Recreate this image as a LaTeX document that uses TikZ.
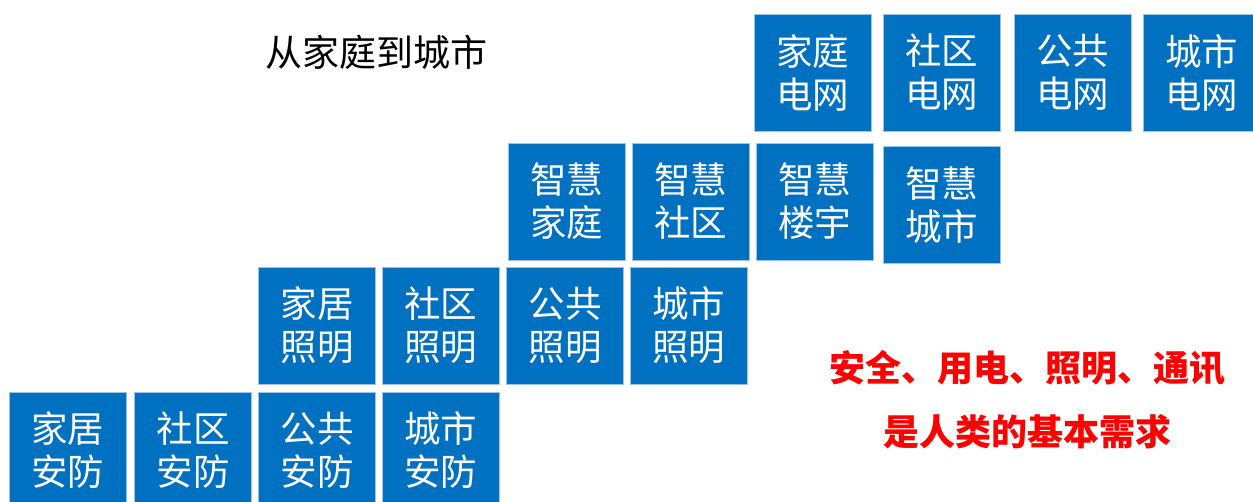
\documentclass[tikz,border=0pt]{standalone}
\usepackage{fontspec}
\newfontfamily\cjk{Noto Sans CJK SC}
\definecolor{boxblue}{HTML}{0070C0}
\definecolor{boxedge}{HTML}{9DC3E6}
\definecolor{redtext}{HTML}{FF0000}
\tikzset{
  tile/.style={draw=boxedge, line width=0.8pt, fill=boxblue, text=white,
    minimum width=117pt, minimum height=117pt, inner sep=0pt, align=center,
    font=\cjk\fontsize{36.5}{43}\selectfont},
  titletext/.style={font=\cjk\fontsize{37}{40}\selectfont, text=black, inner sep=0pt},
  redline/.style={font=\cjk\bfseries\fontsize{36}{40}\selectfont, text=redtext, inner sep=0pt}
}
\begin{document}
\begin{tikzpicture}[x=1pt,y=-1pt]
\useasboundingbox (0,0) rectangle (1253,502);
\node[titletext] (title) at (376,52) {从家庭到城市};
% row 1
\node[tile] (jtdw) at (812.5,72.5) {家庭\\电网};
\node[tile] (sqdw) at (941.5,72.5) {社区\\电网};
\node[tile] (ggdw) at (1072.5,72.5) {公共\\电网};
\node[tile] (csdw) at (1201.5,72.5) {城市\\电网};
% row 2
\node[tile] (zhjt) at (566.5,201.5) {智慧\\家庭};
\node[tile] (zhsq) at (690.5,201.5) {智慧\\社区};
\node[tile] (zhly) at (814.5,201.5) {智慧\\楼宇};
\node[tile] (zhcs) at (941.5,205) {智慧\\城市};
% row 3
\node[tile] (jjzm) at (317,325.5) {家居\\照明};
\node[tile] (sqzm) at (440.5,325.5) {社区\\照明};
\node[tile] (ggzm) at (565,325.5) {公共\\照明};
\node[tile] (cszm) at (688.5,325.5) {城市\\照明};
% row 4
\node[tile] (jjaf) at (67.5,450.5) {家居\\安防};
\node[tile] (sqaf) at (193,450.5) {社区\\安防};
\node[tile] (ggaf) at (317,450.5) {公共\\安防};
\node[tile] (csaf) at (440.5,450.5) {城市\\安防};
% red text
\node[redline] (need1) at (1027,368) {安全、用电、照明、通讯};
\node[redline] (need2) at (1027,432) {是人类的基本需求};
\end{tikzpicture}
\end{document}
